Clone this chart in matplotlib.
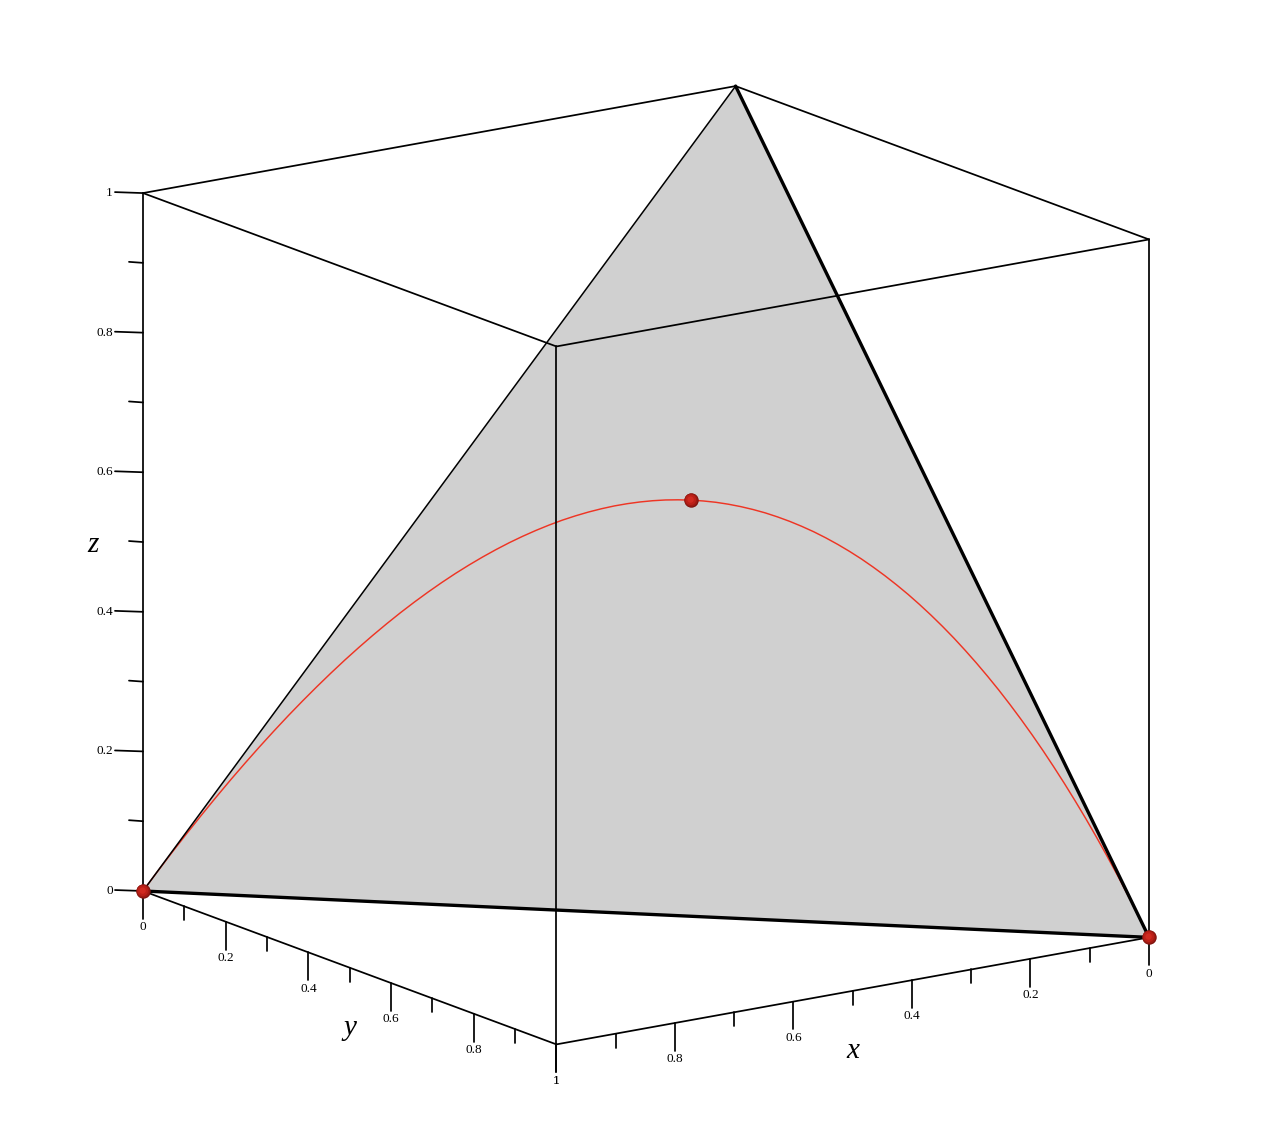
#!/usr/bin/env python3
"""Simplex x + y + z = 1 in the unit cube with a red curve on it."""

import matplotlib

matplotlib.use("Agg")
import matplotlib.pyplot as plt
from matplotlib.markers import MarkerStyle
from matplotlib.transforms import Affine2D
from mpl_toolkits.mplot3d import proj3d
from mpl_toolkits.mplot3d.art3d import Poly3DCollection

WIDTH, HEIGHT = 1278, 1138

CURVE_X = [0, .0002, .0006, .0014, .0025, .0039, .0056, .0077, .01, .0127, .0156, .0189, .0225, .0264,
           .0306, .0352, .04, .0452, .0506, .0564, .0625, .0689, .0756, .0827, .09, .0977, .1056, .1139,
           .1225, .1314, .1406, .1502, .16, .1702, .1806, .1914, .2025, .2139, .2256, .2377, .25, .2627,
           .2756, .2889, .3025, .3164, .3306, .3452, .36, .3752, .3906, .4064, .4225, .4389, .4556, .4727,
           .49, .5077, .5256, .5439, .5625, .5814, .6006, .6202, .64, .6602, .6806, .7014, .7225, .7439,
           .7656, .7877, .81, .8327, .8556, .8789, .9025, .9264, .9506, .9752, 1]
CURVE_Y = CURVE_X[::-1]
CURVE_Z = [0, .0247, .0488, .0722, .095, .1172, .1388, .1597, .18, .1997, .2188, .2372, .255, .2722,
           .2888, .3047, .32, .3347, .3488, .3622, .375, .3872, .3988, .4097, .42, .4297, .4388, .4472,
           .455, .4622, .4688, .4747, .48, .4847, .4888, .4922, .495, .4972, .4988, .4997, .5, .4997,
           .4988, .4972, .495, .4922, .4888, .4847, .48, .4747, .4688, .4622, .455, .4472, .4388, .4297,
           .42, .4097, .3988, .3872, .375, .3622, .3488, .3347, .32, .3047, .2888, .2722, .255, .2372,
           .2188, .1997, .18, .1597, .1388, .1172, .095, .0722, .0488, .0247, 0]
POINTS_X = [1, 0.25, 0]
POINTS_Y = [0, 0.25, 1]
POINTS_Z = [0, 0.5, 0]
SIMPLEX = [(1, 0, 0), (0, 0, 1), (0, 1, 0)]
TICKS = [0, .1, .2, .3, .4, .5, .6, .7, .8, .9, 1]
LABELS = {0: "0", .2: "0.2", .4: "0.4", .6: "0.6", .8: "0.8", 1: "1"}

SERIF = "Liberation Serif"
LINE = 1.25


def seg(ax, a, b, lw=LINE, zorder=3, color="black"):
    ax.plot([a[0], b[0]], [a[1], b[1]], [a[2], b[2]], color=color, lw=lw, zorder=zorder,
            solid_capstyle="round", clip_on=False)


def draw_sphere(ax, x, y, z):
    layers = [(10.4, 0, 0, "#7d130e"), (9.4, -.03, .03, "#a01a13"), (7.6, -.07, .07, "#bb2018"),
              (4.6, -.14, .14, "#d02a20")]
    for size, dx, dy, color in layers:
        marker = MarkerStyle("o", transform=Affine2D().translate(dx, dy))
        ax.plot([x], [y], [z], marker=marker, ms=size, mfc=color, mec="none", ls="none",
                zorder=6, clip_on=False)


def place_axes(fig, ax):
    """Scale and shift the axes so two cube corners land on their reference pixels."""
    def to_px(p):
        fig.canvas.draw()
        xs, ys, _ = proj3d.proj_transform(p[0], p[1], p[2], ax.M)
        return ax.transData.transform((xs, ys))

    left, right = to_px((1, 0, 0)), to_px((0, 1, 0))
    scale = (1149 - 143) / (right[0] - left[0])
    side = min(WIDTH, HEIGHT) * scale
    ax.set_position([(WIDTH - side) / 2 / WIDTH, (HEIGHT - side) / 2 / HEIGHT, side / WIDTH, side / HEIGHT])
    left = to_px((1, 0, 0))
    pos = ax.get_position(original=True)
    ax.set_position([pos.x0 + (143 - left[0]) / WIDTH, pos.y0 + ((HEIGHT - 891) - left[1]) / HEIGHT,
                     pos.width, pos.height])


def label(ax, x, y, z, text, **kwargs):
    # project by hand so the text sits in plain 2D axes coordinates
    xs, ys, _ = proj3d.proj_transform(x, y, z, ax.M)
    ax.text2D(xs, ys, text, transform=ax.transData, family=SERIF, va="center", clip_on=False, **kwargs)


def main():
    fig = plt.figure(figsize=(WIDTH / 100, HEIGHT / 100), dpi=100, facecolor="white")
    ax = fig.add_subplot(projection="3d", proj_type="ortho", computed_zorder=False)
    ax.set_position([(WIDTH - HEIGHT) / 2 / WIDTH, 0, HEIGHT / WIDTH, 1])
    ax.view_init(elev=15.0, azim=55.1)
    ax.set_box_aspect((1, 1, 1))
    ax.set_xlim(0, 1)
    ax.set_ylim(0, 1)
    ax.set_zlim(0, 1)
    ax.set_autoscale_on(False)
    ax.set_axis_off()

    ax.add_collection3d(Poly3DCollection([SIMPLEX], facecolor="#d0d0d0", edgecolor="none", zorder=1), autolim=False)
    ax.plot(CURVE_X, CURVE_Y, CURVE_Z, color="#ee3524", lw=1.05, zorder=2, clip_on=False)

    # simplex edges
    seg(ax, SIMPLEX[0], SIMPLEX[1], lw=1.1)
    seg(ax, SIMPLEX[1], SIMPLEX[2], lw=2.4)
    seg(ax, SIMPLEX[0], SIMPLEX[2], lw=2.4)

    # visible cube edges
    seg(ax, (1, 0, 1), (0, 0, 1))
    seg(ax, (0, 0, 1), (0, 1, 1))
    seg(ax, (0, 1, 1), (1, 1, 1))
    seg(ax, (1, 1, 1), (1, 0, 1))
    seg(ax, (1, 0, 0), (1, 0, 1))
    seg(ax, (1, 1, 0), (1, 1, 1))
    seg(ax, (0, 1, 0), (0, 1, 1))
    seg(ax, (1, 0, 0), (1, 1, 0))
    seg(ax, (0, 1, 0), (1, 1, 0))

    for value in TICKS:
        major = value in LABELS
        drop = 0.04 if major else 0.02
        # y axis runs along x = 1, x axis along y = 1
        seg(ax, (1, value, 0), (1, value, -drop))
        seg(ax, (value, 1, 0), (value, 1, -drop))
        # z ticks point left on screen: step back in y and compensate in z
        reach = 0.0678 if major else 0.0339
        seg(ax, (1, 0, value), (1, -reach, value - 0.2214 * reach + 0.0015))

    for x, y, z in zip(POINTS_X, POINTS_Y, POINTS_Z):
        draw_sphere(ax, x, y, z)

    place_axes(fig, ax)
    fig.canvas.draw()

    for value, text in LABELS.items():
        label(ax, 1, value, -0.052, text, fontsize=9.5, ha="center")
        label(ax, value, 1, -0.052, text, fontsize=9.5, ha="center")
        label(ax, 1, -0.0725, value - 0.016, text, fontsize=9.5, ha="right")

    label(ax, 0.5, 1, -0.086, "x", style="italic", fontsize=21, ha="center")
    label(ax, 1, 0.5, -0.087, "y", style="italic", fontsize=21, ha="center")
    label(ax, 1, -0.121, 0.469, "z", style="italic", fontsize=21, ha="center")

    fig.savefig("out.png", dpi=100, facecolor="white")
    plt.close(fig)


if __name__ == "__main__":
    main()
